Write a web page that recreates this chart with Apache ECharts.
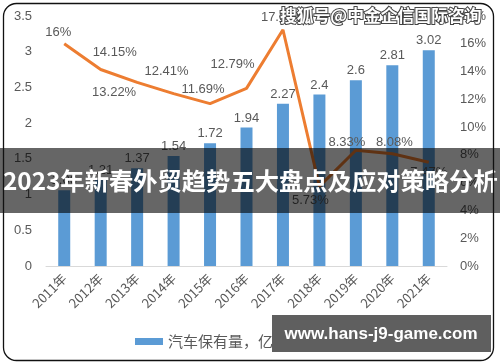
<!DOCTYPE html>
<html>
<head>
<meta charset="utf-8">
<script src="https://cdn.jsdelivr.net/npm/echarts@6/dist/echarts.min.js"></script>
<style>
html,body{margin:0;padding:0;background:#fff;}
#chart{width:500px;height:362px;}
</style>
</head>
<body>
<div id="chart"></div>
<script>
const categories = ['2011年','2012年','2013年','2014年','2015年','2016年','2017年','2018年','2019年','2020年','2021年'];
const carStock = [1.06, 1.21, 1.37, 1.54, 1.72, 1.94, 2.27, 2.4, 2.6, 2.81, 3.02];
const growthRate = [16, 14.15, 13.22, 12.41, 11.69, 12.79, 17.01, 5.73, 8.33, 8.08, 7.47];
const leftTicks = {min: 0, max: 3.5, interval: 0.5};
const rightTicks = {min: 0, max: 18, interval: 2};
const seriesNames = ['汽车保有量，亿辆', '增速'];
const titleText = '2023年新春外贸趋势五大盘点及应对策略分析';
const watermarkText = '搜狐号@中金企信国际咨询';
const siteText = 'www.hans-j9-game.com';

// label placement per point (layout only)
const lineLabelLayout = [
  ['top', -6, 0], ['top', 14, -6], ['bottom', -23, -1], ['top', -7, -11],
  ['top', -7, -3], ['top', -14, -12], ['top', 0, -1], ['bottom', -9, 3],
  ['top', -9, 4], ['top', 2, 0], ['bottom', 0, -1]
];

const gray = '#595959';
const numFont = '"Liberation Sans", Arial, sans-serif';
const cjkFont = '"Noto Sans CJK SC", "Liberation Sans", sans-serif';

const lineData = growthRate.map((v, i) => ({
  value: v,
  label: {position: lineLabelLayout[i][0], offset: [lineLabelLayout[i][1], lineLabelLayout[i][2]]}
}));

const chart = echarts.init(document.getElementById('chart'), null, {renderer: 'canvas'});
chart.setOption({
  animation: false,
  backgroundColor: '#fff',
  grid: {left: 46, right: 53, top: 16, bottom: 96, containLabel: false},
  legend: {
    left: 130, top: 329,
    itemWidth: 28, itemHeight: 7, itemGap: 30,
    textStyle: {color: gray, fontSize: 15, fontFamily: cjkFont},
    data: [{name: seriesNames[0], icon: 'rect'}, {name: seriesNames[1], icon: 'rect'}]
  },
  xAxis: {
    type: 'category',
    data: categories,
    axisLine: {lineStyle: {color: '#d9d9d9', width: 1}},
    axisTick: {show: false},
    axisLabel: {rotate: 45, color: gray, fontSize: 13, fontFamily: cjkFont, margin: 10, interval: 0}
  },
  yAxis: [
    {
      type: 'value', min: leftTicks.min, max: leftTicks.max, interval: leftTicks.interval,
      axisLine: {show: false}, axisTick: {show: false}, splitLine: {show: false},
      axisLabel: {color: gray, fontSize: 13, fontFamily: numFont, margin: 14}
    },
    {
      type: 'value', min: rightTicks.min, max: rightTicks.max, interval: rightTicks.interval,
      axisLine: {show: false}, axisTick: {show: false}, splitLine: {show: false},
      axisLabel: {color: gray, fontSize: 13, fontFamily: numFont, margin: 13, formatter: '{value}%'}
    }
  ],
  series: [
    {
      name: seriesNames[0], type: 'bar', data: carStock, barWidth: 12,
      itemStyle: {color: '#5b9bd5'},
      label: {show: true, position: 'top', distance: 3, color: gray, fontSize: 13, fontFamily: numFont}
    },
    {
      name: seriesNames[1], type: 'line', yAxisIndex: 1, data: lineData,
      showSymbol: true, symbol: 'circle', symbolSize: 0.01,
      lineStyle: {color: '#ed7d31', width: 3},
      itemStyle: {color: '#ed7d31'},
      label: {show: true, color: gray, fontSize: 13, fontFamily: numFont, formatter: p => p.value + '%'}
    }
  ],
  graphic: [
    {type: 'rect', z: 100, shape: {x: 0, y: 148, width: 500, height: 65}, style: {fill: 'rgba(0,0,0,0.6)'}},
    {type: 'text', z: 101, x: 3, y: 181, style: {text: titleText, fill: '#fff', font: 'bold 24.3px "Noto Sans CJK SC", sans-serif', textVerticalAlign: 'middle', textAlign: 'left'}},
    {type: 'text', z: 101, x: 280, y: 16, style: {text: watermarkText, fill: '#fff', stroke: '#444', lineWidth: 2, font: 'bold 16.8px "Noto Sans CJK SC", sans-serif', textVerticalAlign: 'middle', textAlign: 'left'}},
    {type: 'rect', z: 100, shape: {x: 272, y: 315, width: 219, height: 37}, style: {fill: '#5f5f5f'}},
    {type: 'text', z: 101, x: 381, y: 334, style: {text: siteText, fill: '#fff', font: 'bold 17px "Liberation Sans", sans-serif', textVerticalAlign: 'middle', textAlign: 'center'}},
    {type: 'rect', z: 102, shape: {x: 3.5, y: 3.5, width: 490, height: 357, r: 13}, style: {fill: 'none', stroke: '#111', lineWidth: 1.3}}
  ]
});
</script>
</body>
</html>
